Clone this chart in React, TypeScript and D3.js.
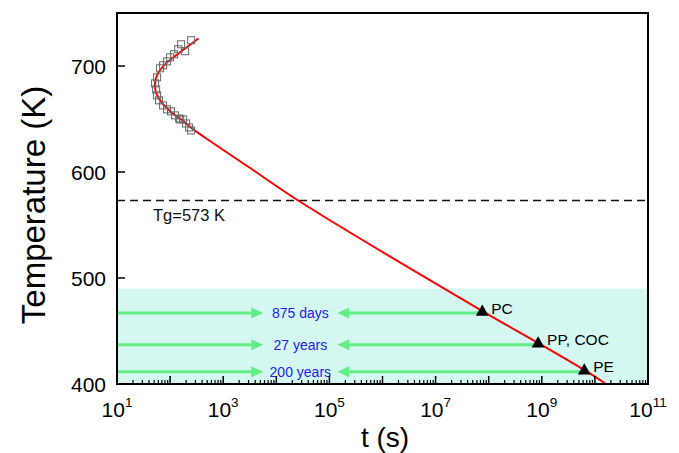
import React, { useEffect, useRef } from 'react';
import * as d3 from 'd3';

// fitted curve (time in s, temperature in K)
const curveT = [342, 155, 86.7, 60.1, 52.1, 54.5, 69.7, 108, 178, 275, 457, 3160, 2.72e4, 8.05e7, 9.16e8, 6.76e9, 1.62e10];
const curveK = [725.9, 713.0, 703.2, 693.8, 684.3, 674.8, 665.4, 655.9, 648.0, 640.1, 632.3, 604, 572.4, 468.1, 437.8, 412.3, 400];

// measured points (open squares)
const measT = [249, 161, 192, 142, 119, 100, 87.7, 73.8, 64.7, 56.9, 52.1, 54.5, 56.9, 61.9, 73.8, 87.7, 104, 124, 148, 176, 200, 228, 249, 155];
const measK = [724.3, 720.5, 713.9, 715.8, 711.1, 708.2, 704.4, 700.7, 697.8, 689.3, 683.6, 677.9, 672.3, 667.6, 662.8, 659.1, 657.2, 653.4, 650.5, 649.6, 645.8, 642.0, 639.2, 649.6];

// service-life markers
const markerNames = ['PC', 'PP, COC', 'PE'];
const markerT = [7.56e7, 8.52e8, 6.31e9];
const markerK = [467, 437, 411.5];
const durationLabels = ['875 days', '27 years', '200 years'];

// arrow tips around the duration labels
const arrowLeftTip = 5.69e3;
const arrowRightTip = 1.41e5;

const xTickExps = [1, 3, 5, 7, 9, 11];
const yTicks = [400, 500, 600, 700];

const Tg = 573;
const bandTop = 490;

const App = () => {
  const svgRef = useRef(null);

  useEffect(() => {
    const width = 679;
    const height = 453;
    const marginLeft = 117;
    const marginRight = 31;
    const marginTop = 13;
    const marginBottom = 69;
    const font = "'Liberation Sans', Arial, sans-serif";

    const svg = d3.select(svgRef.current);
    svg.selectAll('*').remove();
    svg.attr('width', width).attr('height', height).style('font-family', font);

    const x = d3.scaleLog().domain([10, 1e11]).range([marginLeft, width - marginRight]);
    const y = d3.scaleLinear().domain([400, 750]).range([height - marginBottom, marginTop]);

    const x0 = marginLeft, x1 = width - marginRight;
    const y0 = height - marginBottom, y1 = marginTop;

    svg.append('defs').append('clipPath').attr('id', 'plot-clip')
      .append('rect').attr('x', x0).attr('y', y1).attr('width', x1 - x0).attr('height', y0 - y1);

    // cyan band
    svg.append('rect')
      .attr('x', x0).attr('y', y(bandTop))
      .attr('width', x1 - x0).attr('height', y(400) - y(bandTop))
      .attr('fill', '#d4f8f1');

    // Tg line
    svg.append('line')
      .attr('x1', x0).attr('x2', x1)
      .attr('y1', y(Tg)).attr('y2', y(Tg))
      .attr('stroke', '#111').attr('stroke-width', 1.5)
      .attr('stroke-dasharray', '8,5');

    svg.append('text')
      .attr('x', 153).attr('y', y(Tg) + 20)
      .attr('font-size', 16.5).attr('fill', '#111')
      .text(`Tg=${Tg} K`);

    // green arrows
    const green = '#62ee84';
    const arrows = svg.append('g');
    markerT.forEach((t, i) => {
      const yy = y(markerK[i]);
      const tipL = x(arrowLeftTip);
      const tipR = x(arrowRightTip);
      arrows.append('line')
        .attr('x1', x0).attr('x2', tipL - 8)
        .attr('y1', yy).attr('y2', yy)
        .attr('stroke', green).attr('stroke-width', 3);
      arrows.append('path')
        .attr('d', `M${tipL},${yy} L${tipL - 12},${yy - 5.5} L${tipL - 12},${yy + 5.5} Z`)
        .attr('fill', green);
      arrows.append('line')
        .attr('x1', tipR + 8).attr('x2', x(t))
        .attr('y1', yy).attr('y2', yy)
        .attr('stroke', green).attr('stroke-width', 3);
      arrows.append('path')
        .attr('d', `M${tipR},${yy} L${tipR + 12},${yy - 5.5} L${tipR + 12},${yy + 5.5} Z`)
        .attr('fill', green);
      arrows.append('text')
        .attr('x', (tipL + tipR) / 2).attr('y', yy)
        .attr('dy', '0.36em')
        .attr('text-anchor', 'middle')
        .attr('font-size', 14).attr('fill', '#2121f0')
        .text(durationLabels[i]);
    });

    // red fitted curve
    const line = d3.line()
      .x(d => x(d[0]))
      .y(d => y(d[1]))
      .curve(d3.curveCatmullRom.alpha(0.5));
    svg.append('path')
      .datum(curveT.map((t, i) => [t, curveK[i]]))
      .attr('clip-path', 'url(#plot-clip)')
      .attr('d', line)
      .attr('fill', 'none')
      .attr('stroke', '#ff0000')
      .attr('stroke-width', 2);

    // open squares
    svg.append('g')
      .selectAll('rect')
      .data(measT.map((t, i) => [t, measK[i]]))
      .join('rect')
      .attr('x', d => x(d[0]) - 3.5).attr('y', d => y(d[1]) - 3.5)
      .attr('width', 7).attr('height', 7)
      .attr('fill', 'none').attr('stroke', '#666').attr('stroke-width', 1);

    // triangles and labels
    const tri = d3.symbol().type(d3.symbolTriangle).size(72);
    markerT.forEach((t, i) => {
      svg.append('path')
        .attr('transform', `translate(${x(t)},${y(markerK[i]) - 1})`)
        .attr('d', tri)
        .attr('fill', '#000');
      svg.append('text')
        .attr('x', x(t) + 9).attr('y', y(markerK[i]) - 5)
        .attr('dy', '0.36em')
        .attr('font-size', 15.5).attr('fill', '#000')
        .text(markerNames[i]);
    });

    // frame
    svg.append('rect')
      .attr('x', x0).attr('y', y1)
      .attr('width', x1 - x0).attr('height', y0 - y1)
      .attr('fill', 'none').attr('stroke', '#000').attr('stroke-width', 2);

    // x ticks, pointing inward
    const xt = svg.append('g').attr('stroke', '#000');
    for (let e = 1; e < 11; e++) {
      for (let m = 1; m < 10; m++) {
        const v = m * Math.pow(10, e);
        const xx = x(v);
        if (m === 1 && e === 1) continue;
        xt.append('line')
          .attr('x1', xx).attr('x2', xx)
          .attr('y1', y0).attr('y2', y0 - (m === 1 ? 8 : 4))
          .attr('stroke-width', m === 1 ? 1.5 : 1.2);
      }
    }

    xTickExps.forEach(e => {
      const t = svg.append('text')
        .attr('x', x(Math.pow(10, e))).attr('y', 417)
        .attr('text-anchor', 'middle')
        .attr('font-size', 21).attr('fill', '#000');
      t.append('tspan').text('10');
      t.append('tspan').attr('dy', -10).attr('font-size', 13.5).text(e);
    });

    // y ticks
    yTicks.forEach(v => {
      svg.append('line')
        .attr('x1', x0).attr('x2', x0 + 8)
        .attr('y1', y(v)).attr('y2', y(v))
        .attr('stroke', '#000').attr('stroke-width', 1.5);
      svg.append('text')
        .attr('x', 106).attr('y', y(v))
        .attr('dy', '0.36em')
        .attr('text-anchor', 'end')
        .attr('font-size', 21).attr('fill', '#000')
        .text(v);
    });

    // axis titles
    svg.append('text')
      .attr('x', 385).attr('y', 447)
      .attr('text-anchor', 'middle')
      .attr('font-size', 28).attr('fill', '#000')
      .text('t (s)');

    svg.append('text')
      .attr('transform', `translate(45,205) rotate(-90)`)
      .attr('text-anchor', 'middle')
      .attr('font-size', 33).attr('fill', '#000')
      .text('Temperature (K)');
  }, []);

  return <svg ref={svgRef} style={{ position: 'absolute', left: 0, top: 0 }}></svg>;
};

export default App;
